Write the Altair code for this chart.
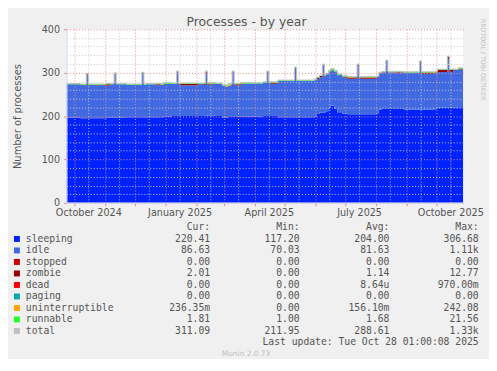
import altair as alt
import pandas as pd

# ---------------- data ----------------
dates = [
    "2024-09-23", "2024-10-07", "2024-10-10", "2024-10-13", "2024-10-15", "2024-10-16", "2024-10-23", "2024-10-26", "2024-10-31", "2024-11-02",
    "2024-11-06", "2024-11-10", "2024-11-12", "2024-11-22", "2024-12-08", "2024-12-10", "2024-12-12", "2024-12-22", "2024-12-27", "2024-12-30",
    "2025-01-07", "2025-01-12", "2025-01-14", "2025-01-15", "2025-02-03", "2025-02-08", "2025-02-10", "2025-02-12", "2025-02-18", "2025-02-20",
    "2025-02-27", "2025-03-03", "2025-03-05", "2025-03-08", "2025-03-09", "2025-03-11", "2025-03-12", "2025-03-17", "2025-03-20", "2025-04-09",
    "2025-04-13", "2025-04-15", "2025-04-17", "2025-04-24", "2025-05-11", "2025-05-13", "2025-05-31", "2025-06-02", "2025-06-03", "2025-06-05",
    "2025-06-08", "2025-06-09", "2025-06-10", "2025-06-11", "2025-06-14", "2025-06-16", "2025-06-20", "2025-06-23", "2025-06-25", "2025-06-28",
    "2025-06-30", "2025-07-03", "2025-07-13", "2025-07-15", "2025-08-02", "2025-08-04", "2025-08-07", "2025-08-11", "2025-08-13", "2025-08-22",
    "2025-08-25", "2025-08-29", "2025-09-14", "2025-09-16", "2025-09-29", "2025-09-30", "2025-10-01", "2025-10-02", "2025-10-12", "2025-10-14",
    "2025-10-18", "2025-10-23", "2025-10-28",
]
sleeping = [
    196, 195, 195, 195, 195, 195, 195, 195, 195, 196,
    196, 196, 196, 197, 197, 197, 197, 197, 197, 199,
    200, 200, 200, 200, 200, 200, 201, 201, 201, 200,
    196, 196, 198, 198, 198, 198, 198, 199, 199, 200,
    200, 200, 200, 197, 197, 197, 199, 205, 205, 208,
    208, 208, 208, 211, 218, 224, 216, 209, 209, 206,
    206, 204, 204, 204, 205, 215, 216, 216, 216, 216,
    216, 215, 215, 215, 215, 217, 217, 220, 220, 220,
    220, 220.41, 220.41,
]
idle = [
    77.15, 77.15, 75.15, 99.15, 75.15, 77.15, 75.15, 77.15, 74.65, 74.65,
    77.15, 102.15, 77.15, 75.15, 102.15, 75.15, 76.15, 74.15, 75.35, 75.35,
    74.15, 102.15, 74.15, 71.15, 74.15, 71.65, 98.65, 71.65, 74.15, 74.15,
    74.15, 71.3, 72.3, 75.15, 104.15, 75.15, 72.65, 73.65, 76.15, 77.15,
    102.15, 77.15, 74.65, 84.15, 114.15, 84.15, 84.15, 83.15, 80.65, 81.65,
    107.65, 110.15, 84.15, 85.15, 83.85, 81.85, 85.85, 84.85, 86.15, 85.15,
    82.15, 82.15, 111.15, 82.15, 85.15, 84.15, 85.15, 111.15, 85.15, 83.15,
    85.15, 85.15, 107.65, 82.65, 85.15, 84.15, 79.65, 81.65, 111.65, 81.65,
    86.15, 86.63, 86.63,
]
zombie = [
    0, 0, 2, 2, 2, 0, 2, 0, 2.5, 2.5,
    0, 0, 0, 0, 0, 0, 0, 2, 0, 0,
    0, 0, 0, 3, 0, 2.5, 2.5, 2.5, 0, 0,
    0, 0, 0, 0, 0, 0, 2.5, 2.5, 0, 0,
    0, 0, 2.5, 0, 0, 0, 0, 0, 2.5, 2.5,
    2.5, 0, 0, 0, 0, 0, 0, 0, 0, 0,
    3, 3, 3, 3, 0, 0, 0, 0, 0, 2,
    0, 0, 2.5, 2.5, 0, 0, 4.5, 4.5, 4.5, 4.5,
    0, 2.01, 2.01,
]
uninterruptible = [
    0.15, 0.15, 0.15, 0.15, 0.15, 0.15, 0.15, 0.15, 0.15, 0.15,
    0.15, 0.15, 0.15, 0.15, 0.15, 0.15, 0.15, 0.15, 0.15, 0.15,
    0.15, 0.15, 0.15, 0.15, 0.15, 0.15, 0.15, 0.15, 0.15, 0.15,
    0.15, 3, 3, 0.15, 0.15, 0.15, 0.15, 0.15, 0.15, 0.15,
    0.15, 0.15, 0.15, 0.15, 0.15, 0.15, 0.15, 0.15, 0.15, 0.15,
    0.15, 0.15, 0.15, 0.15, 0.15, 0.15, 0.15, 0.15, 0.15, 0.15,
    0.15, 0.15, 0.15, 0.15, 0.15, 0.15, 0.15, 0.15, 0.15, 0.15,
    0.15, 0.15, 0.15, 0.15, 0.15, 0.15, 0.15, 0.15, 0.15, 0.15,
    0.15, 0.24, 0.24,
]
runnable = [
    1.7, 1.7, 1.7, 1.7, 1.7, 1.7, 1.7, 1.7, 1.7, 1.7,
    1.7, 1.7, 1.7, 1.7, 1.7, 1.7, 1.7, 1.7, 2.5, 2.5,
    1.7, 1.7, 1.7, 1.7, 1.7, 1.7, 1.7, 1.7, 1.7, 1.7,
    1.7, 1.7, 1.7, 1.7, 1.7, 1.7, 1.7, 1.7, 1.7, 1.7,
    1.7, 1.7, 1.7, 1.7, 1.7, 1.7, 1.7, 1.7, 1.7, 1.7,
    1.7, 1.7, 1.7, 1.7, 3, 3, 3, 3, 1.7, 1.7,
    1.7, 1.7, 1.7, 1.7, 1.7, 1.7, 1.7, 1.7, 1.7, 1.7,
    1.7, 1.7, 1.7, 1.7, 1.7, 1.7, 1.7, 1.7, 1.7, 1.7,
    1.7, 1.81, 1.81,
]
stopped = [0] * len(dates)
dead = [0] * len(dates)
paging = [0] * len(dates)
total = [
    275, 274, 274, 298, 274, 274, 274, 274, 274, 275,
    275, 300, 275, 274, 301, 274, 275, 275, 275, 277,
    276, 304, 276, 276, 276, 276, 304, 277, 277, 276,
    272, 272, 275, 275, 304, 275, 275, 277, 277, 279,
    304, 279, 279, 283, 313, 283, 285, 290, 290, 294,
    320, 320, 294, 298, 305, 309, 305, 297, 297, 293,
    293, 291, 320, 291, 292, 301, 303, 329, 303, 303,
    303, 302, 327, 302, 302, 303, 303, 308, 338, 308,
    308, 311.09, 311.09,
]

series_names = ["sleeping", "idle", "stopped", "zombie", "dead", "paging", "uninterruptible", "runnable"]
series_colors = ["#0022ff", "#4169e1", "#cc0000", "#990000", "#ff0000", "#00aaaa", "#ffa500", "#22ff22"]

legend_labels = ["sleeping", "idle", "stopped", "zombie", "dead", "paging", "uninterruptible", "runnable", "total"]
legend_colors = series_colors + ["#c0c0c0"]
cur_vals = ["220.41", "86.63", "0.00", "2.01", "0.00", "0.00", "236.35m", "1.81", "311.09"]
min_vals = ["117.20", "70.03", "0.00", "0.00", "0.00", "0.00", "0.00", "1.00", "211.95"]
avg_vals = ["204.00", "81.63", "0.00", "1.14", "8.64u", "0.00", "156.10m", "1.68", "288.61"]
max_vals = ["306.68", "1.11k", "0.00", "12.77", "970.00m", "0.00", "242.08", "21.56", "1.33k"]
headers = ["Cur:", "Min:", "Avg:", "Max:"]
last_update = "Last update: Tue Oct 28 01:00:08 2025"
watermark = "Munin 2.0.73"

# ---------------- tables ----------------
wide = pd.DataFrame({
    "date": [d + "T00:00:00" for d in dates],
    "sleeping": sleeping, "idle": idle, "stopped": stopped, "zombie": zombie,
    "dead": dead, "paging": paging, "uninterruptible": uninterruptible,
    "runnable": runnable, "total": total,
})
long = wide.melt(id_vars="date", value_vars=series_names, var_name="series", value_name="value")
long["k"] = long["series"].map({n: i for i, n in enumerate(series_names)})

NB = "\u00a0"


def unit_slot(s):
    return s if s[-1].isalpha() else s + NB


rows = ["hdr"] + legend_labels + ["upd", "wm"]
leg_df = pd.DataFrame({
    "row": ["hdr"] + legend_labels,
    "name": [""] + legend_labels,
    "cur": [headers[0] + NB * 2] + [unit_slot(v) for v in cur_vals],
    "min": [headers[1] + NB * 2] + [unit_slot(v) for v in min_vals],
    "avg": [headers[2] + NB * 2] + [unit_slot(v) for v in avg_vals],
    "max": [headers[3] + NB * 2] + [unit_slot(v) for v in max_vals],
})
sq_df = pd.DataFrame({"row": legend_labels, "color": legend_colors})
upd_df = pd.DataFrame({"row": ["upd"], "t": [last_update]})
wm_df = pd.DataFrame({"row": ["wm"], "t": [watermark]})

# ---------------- styling ----------------
TXT = "#555555"
SANS = "DejaVu Sans"
MONO = "DejaVu Sans Mono"
MAJ = "#e48c8c"
MINC = "#c8c8c8"
AXC = "#cfd6f8"
W, H = 400, 175

months = [(2024, 10), (2024, 11), (2024, 12), (2025, 1), (2025, 2), (2025, 3), (2025, 4),
          (2025, 5), (2025, 6), (2025, 7), (2025, 8), (2025, 9), (2025, 10)]
xvals = []
for (yy, mm) in months:
    xvals.append(alt.DateTime(year=yy, month=mm, date=1))
    xvals.append(alt.DateTime(year=yy, month=mm, date=15))

x_scale = alt.Scale(domain=[alt.DateTime(year=2024, month=9, date=23),
                            alt.DateTime(year=2025, month=10, date=28)])
y_scale = alt.Scale(domain=[0, 400], nice=False)

x_axis = alt.Axis(
    values=xvals, title=None,
    labelExpr="date(datum.value) == 15 && month(datum.value) % 3 == 0 ? timeFormat(datum.value, '%B %Y') : ''",
    labelOverlap=False, labelFlush=False, labelFont=SANS, labelFontSize=9.7, labelColor=TXT,
    labelPadding=2, tickSize=3,
    tickColor={"condition": {"test": "date(datum.value) == 1", "value": MAJ}, "value": "transparent"},
    gridColor={"condition": {"test": "date(datum.value) == 1", "value": MAJ}, "value": MINC},
    gridDash=[1, 2], gridWidth=1, domainColor=AXC, domainWidth=1, zindex=1,
)
y_axis = alt.Axis(
    values=list(range(0, 401, 20)), title="Number of processes",
    labelExpr="datum.value % 100 == 0 ? datum.label : ''",
    labelOverlap=False, labelFlush=False, labelFont=SANS, labelFontSize=9.7, labelColor=TXT,
    labelPadding=4, tickSize=3,
    tickColor={"condition": {"test": "datum.value % 100 == 0", "value": MAJ}, "value": "transparent"},
    gridColor={"condition": {"test": "datum.value % 100 == 0", "value": MAJ}, "value": MINC},
    gridDash=[1, 2], gridWidth=1, domainColor=AXC, domainWidth=1,
    titleFont=SANS, titleFontSize=10, titleFontWeight="normal", titleColor=TXT, titlePadding=18.5,
    zindex=1,
)
top_axis = alt.Axis(
    orient="top", title="Processes - by year", labels=False, ticks=False, domain=False, grid=False,
    titleX=181, titleY=-8, titleAlign="center", titleBaseline="middle",
    titleFont=SANS, titleFontSize=12.5, titleFontWeight="normal", titleColor=TXT,
)
right_axis = alt.Axis(
    orient="right", title="RRDTOOL / TOBI OETIKER", labels=False, ticks=False, domain=False, grid=False,
    titleAngle=90, titleX=19, titleY=30, titleAlign="center", titleBaseline="middle",
    titleFont=SANS, titleFontSize=6.4, titleFontWeight="normal", titleColor="#c0c0c0",
)

areas = alt.Chart(long).mark_area(interpolate="step-after", clip=True).encode(
    x=alt.X("date:T", scale=x_scale, axis=x_axis),
    y=alt.Y("value:Q", stack="zero", scale=y_scale, axis=y_axis),
    color=alt.Color("series:N", scale=alt.Scale(domain=series_names, range=series_colors), legend=None),
    order=alt.Order("k:Q"),
)
total_line = alt.Chart(wide).mark_line(interpolate="step-after", color="#c0c0c0", strokeWidth=1, clip=True).encode(
    x=alt.X("date:T", scale=x_scale, axis=top_axis),
    y=alt.Y("total:Q", scale=y_scale, axis=right_axis),
)

# ---------------- legend block (below the plot, own row scale) ----------------
STEP = 11.6
LEG_TOP = 199.8
Y_ROW = alt.Y("row:N", scale=alt.Scale(type="point", domain=rows, padding=0,
                                      range=[LEG_TOP, LEG_TOP + STEP * (len(rows) - 1)]), axis=None)

txt = dict(baseline="middle", font=MONO, fontSize=9.8, color=TXT)
squares = alt.Chart(sq_df).mark_square(size=36, opacity=1).encode(
    y=Y_ROW, x=alt.value(-50), color=alt.Color("color:N", scale=None))
name_t = alt.Chart(leg_df).mark_text(align="left", **txt).encode(y=Y_ROW, x=alt.value(-41), text="name:N")
cur_t = alt.Chart(leg_df).mark_text(align="right", **txt).encode(y=Y_ROW, x=alt.value(144.8), text="cur:N")
min_t = alt.Chart(leg_df).mark_text(align="right", **txt).encode(y=Y_ROW, x=alt.value(235), text="min:N")
avg_t = alt.Chart(leg_df).mark_text(align="right", **txt).encode(y=Y_ROW, x=alt.value(325.6), text="avg:N")
max_t = alt.Chart(leg_df).mark_text(align="right", **txt).encode(y=Y_ROW, x=alt.value(415.6), text="max:N")
upd_t = alt.Chart(upd_df).mark_text(align="right", **txt).encode(y=Y_ROW, x=alt.value(415.6), text="t:N")
wm_t = alt.Chart(wm_df).mark_text(align="center", baseline="middle", font=SANS, fontSize=7.5, color="#c0c0c0").encode(
    y=Y_ROW, x=alt.value(181), text="t:N")

chart = alt.layer(
    areas, total_line, squares, name_t, cur_t, min_t, avg_t, max_t, upd_t, wm_t
).resolve_scale(y="independent").resolve_axis(x="independent", y="independent").properties(
    width=W, height=H,
    background="#f0f0f0",
    padding={"left": 5, "top": 6, "right": 4, "bottom": 0},
).configure_view(fill="white", stroke=None)

chart.save("out.html", embed_options={"renderer": "svg", "actions": False})
